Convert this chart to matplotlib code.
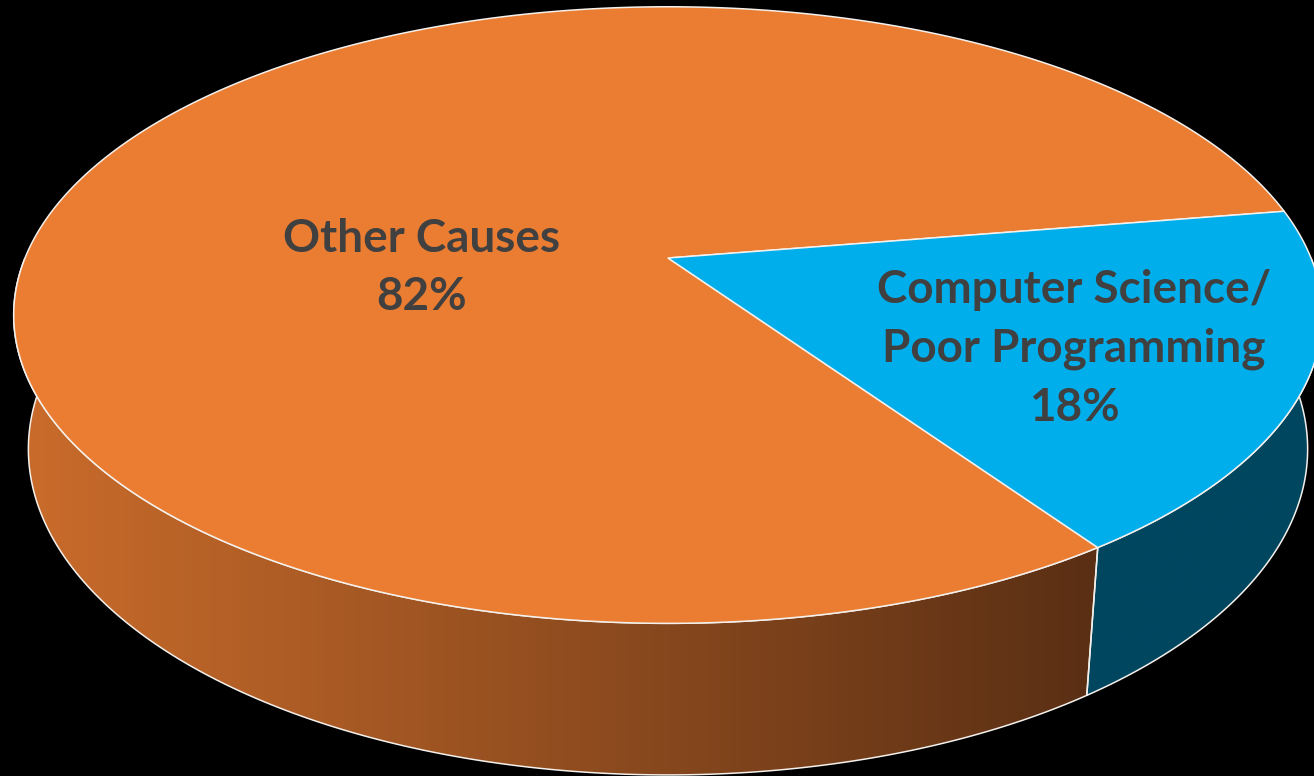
import numpy as np
import matplotlib
matplotlib.use("Agg")
import matplotlib.pyplot as plt
from matplotlib.patches import Polygon
from matplotlib.colors import LinearSegmentedColormap

# ---- data ----
labels = ["Other Causes", "Computer Science/\nPoor Programming"]
values = [82, 18]
pct_labels = ["82%", "18%"]
top_colors = ["#EA7D32", "#00AEEC"]
side_left_colors = ["#CA6C2B", "#00465F"]
side_right_colors = ["#5A2F14", "#00465F"]

# ---- layout / projection ----
W, H = 1314, 776
cx, cy = 668, 258
elev = np.radians(27.2)
s, c = np.sin(elev), np.cos(elev)
Dist = 4.806
fpx = 643 * Dist
ky = 1.013
depth_h = 0.233
start_deg = 9.3

def proj(theta, z, r=1.0):
    X = r * np.cos(theta)
    Y = r * np.sin(theta)
    Z = z
    d = Dist + (Y * c - Z * s)
    up = Y * s + Z * c
    return cx + fpx * X / d, cy - ky * fpx * up / d

fig = plt.figure(figsize=(W / 100, H / 100), dpi=100)
fig.patch.set_facecolor("black")
ax = fig.add_axes([0, 0, 1, 1])
ax.set_facecolor("black")
ax.set_xlim(0, W)
ax.set_ylim(H, 0)
ax.axis("off")

fr = np.array(values, float) / sum(values)
bounds = start_deg + 360 * np.concatenate([[0], np.cumsum(fr)])
edge = dict(edgecolor="#F4F0EC", linewidth=1.1)

# sides (front half only: 180..360 deg)
for i in range(len(values)):
    a, b = bounds[i], bounds[i + 1]
    lo, hi = max(a, 180), min(b, 360)
    if hi <= lo:
        continue
    t = np.radians(np.linspace(lo, hi, 300))
    xt, yt = proj(t, 0)
    xb, yb = proj(t[::-1], -depth_h)
    pts = np.column_stack([np.concatenate([xt, xb]), np.concatenate([yt, yb])])
    poly = Polygon(pts, closed=True, facecolor="none", zorder=2, **edge)
    ax.add_patch(poly)
    x0, x1 = pts[:, 0].min(), pts[:, 0].max()
    cmap = LinearSegmentedColormap.from_list("g", [side_left_colors[i], side_right_colors[i]])
    grad = np.linspace(0, 1, 256).reshape(1, -1)
    im = ax.imshow(grad, cmap=cmap, extent=[x0, x1, pts[:, 1].max(), pts[:, 1].min()],
                   aspect="auto", zorder=1, interpolation="bilinear")
    im.set_clip_path(poly)

# top
for i in range(len(values)):
    a, b = bounds[i], bounds[i + 1]
    t = np.radians(np.linspace(a, b, 400))
    xt, yt = proj(t, 0)
    pts = np.column_stack([np.concatenate([[cx], xt]), np.concatenate([[cy], yt])])
    ax.add_patch(Polygon(pts, closed=True, facecolor=top_colors[i], zorder=3, **edge))

txt = dict(ha="center", va="center", color="#404040", fontweight="bold",
           family=["Lato", "DejaVu Sans"], zorder=5)
ax.text(422, 268, labels[0] + "\n" + pct_labels[0], fontsize=33, linespacing=1.5, **txt)
ax.text(1074, 349, labels[1] + "\n" + pct_labels[1], fontsize=33, linespacing=1.5, **txt)

fig.savefig("out.png", dpi=100, facecolor="black")
